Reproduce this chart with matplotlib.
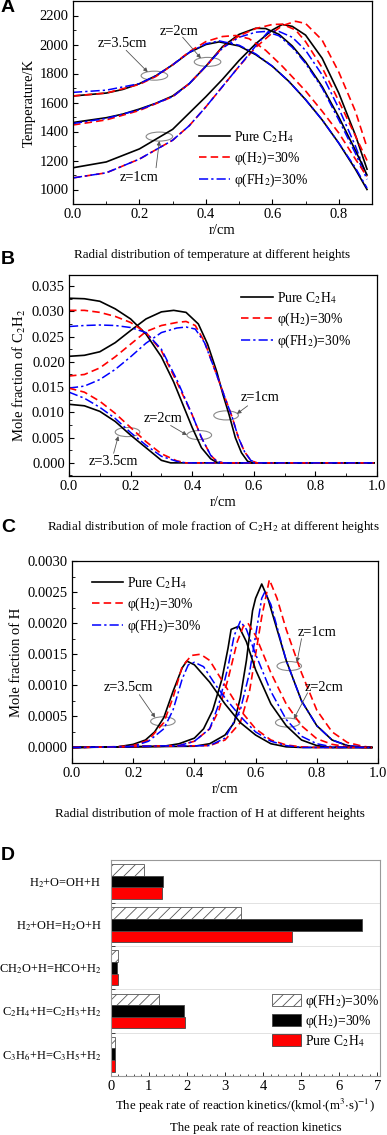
import matplotlib
matplotlib.use('Agg')
import matplotlib.pyplot as plt
from matplotlib.patches import Ellipse
from matplotlib.ticker import MultipleLocator
import numpy as np

plt.rcParams['font.family'] = ['Liberation Serif', 'DejaVu Serif']
plt.rcParams['mathtext.fontset'] = 'stix'
plt.rcParams['font.size'] = 10
plt.rcParams['hatch.linewidth'] = 0.6
plt.rcParams['hatch.color'] = '#555555'

# ---------------- data: panel A (temperature, K) ----------------
rA1_pure = [0, 0.1, 0.2, 0.3, 0.4, 0.45, 0.5, 0.55, 0.6, 0.63, 0.66, 0.7, 0.75, 0.8, 0.85, 0.885]
TA1_pure = [1150, 1190, 1280, 1415, 1640, 1760, 1890, 2005, 2100, 2138, 2125, 2065, 1905, 1665, 1375, 1140]
rA1_h2 = [0, 0.1, 0.2, 0.3, 0.35, 0.4, 0.45, 0.5, 0.55, 0.6, 0.63, 0.67, 0.7, 0.75, 0.8, 0.85, 0.885]
TA1_h2 = [1080, 1115, 1210, 1340, 1440, 1570, 1710, 1850, 1980, 2080, 2130, 2160, 2145, 2030, 1810, 1540, 1290]
rA1_fh2 = [0, 0.1, 0.2, 0.3, 0.35, 0.4, 0.45, 0.5, 0.55, 0.59, 0.62, 0.66, 0.7, 0.75, 0.8, 0.85, 0.885]
TA1_fh2 = [1080, 1115, 1210, 1340, 1440, 1570, 1710, 1850, 1990, 2095, 2090, 2050, 1960, 1790, 1560, 1300, 1090]

rA2_pure = [0, 0.1, 0.15, 0.2, 0.25, 0.3, 0.35, 0.4, 0.45, 0.5, 0.55, 0.58, 0.62, 0.66, 0.7, 0.75, 0.8, 0.85, 0.885]
TA2_pure = [1462, 1495, 1520, 1555, 1595, 1645, 1730, 1850, 1985, 2070, 2112, 2110, 2070, 1990, 1880, 1710, 1500, 1270, 1100]
rA2_h2 = [0, 0.1, 0.2, 0.3, 0.35, 0.4, 0.45, 0.5, 0.55, 0.6, 0.63, 0.67, 0.7, 0.75, 0.8, 0.85, 0.885]
TA2_h2 = [1445, 1480, 1545, 1640, 1730, 1850, 1980, 2060, 2110, 2138, 2140, 2100, 2020, 1840, 1610, 1370, 1200]
rA2_fh2 = [0, 0.1, 0.2, 0.3, 0.35, 0.4, 0.45, 0.5, 0.55, 0.58, 0.62, 0.66, 0.7, 0.75, 0.8, 0.85, 0.885]
TA2_fh2 = [1455, 1490, 1550, 1640, 1730, 1850, 1975, 2050, 2085, 2090, 2060, 1980, 1870, 1700, 1480, 1250, 1070]

rA3_pure = [0, 0.1, 0.15, 0.2, 0.25, 0.3, 0.35, 0.4, 0.44, 0.5, 0.55, 0.6, 0.65, 0.7, 0.75, 0.8, 0.85, 0.885]
TA3_pure = [1645, 1665, 1690, 1730, 1785, 1860, 1945, 2000, 2018, 1990, 1930, 1850, 1745, 1620, 1480, 1320, 1140, 1000]
rA3_h2 = [0, 0.1, 0.2, 0.25, 0.3, 0.35, 0.4, 0.45, 0.49, 0.53, 0.58, 0.63, 0.7, 0.75, 0.8, 0.85, 0.885]
TA3_h2 = [1645, 1665, 1725, 1780, 1860, 1950, 2020, 2055, 2062, 2040, 1960, 1850, 1680, 1540, 1390, 1210, 1090]
rA3_fh2 = [0, 0.1, 0.2, 0.25, 0.3, 0.35, 0.4, 0.44, 0.5, 0.55, 0.6, 0.65, 0.7, 0.75, 0.8, 0.85, 0.885]
TA3_fh2 = [1670, 1685, 1730, 1785, 1860, 1945, 2005, 2025, 1995, 1935, 1850, 1745, 1620, 1480, 1320, 1150, 1010]

# ---------------- data: panel B (mole fraction C2H2) ----------------
rB1 = [0, 0.05, 0.1, 0.15, 0.2, 0.25, 0.3, 0.34, 0.38, 0.42, 0.45, 0.48, 0.5, 0.52, 0.54, 0.56, 0.58, 0.6, 0.8, 0.99]
xB1_pure = [0.0211, 0.0213, 0.0220, 0.0238, 0.0262, 0.0285, 0.0299, 0.0302, 0.0298, 0.0275, 0.0235, 0.0180, 0.0135, 0.0095, 0.0050, 0.0020, 0.0003, 0, 0, 0]
rB1_o = [0, 0.05, 0.1, 0.15, 0.2, 0.25, 0.3, 0.35, 0.38, 0.41, 0.44, 0.47, 0.5, 0.53, 0.55, 0.57, 0.59, 0.61, 0.8, 0.99]
xB1_h2 = [0.0172, 0.0175, 0.0188, 0.0210, 0.0235, 0.0260, 0.0272, 0.0278, 0.0280, 0.0272, 0.0240, 0.0190, 0.0140, 0.0090, 0.0050, 0.0022, 0.0005, 0, 0, 0]
xB1_fh2 = [0.0148, 0.0152, 0.0165, 0.0185, 0.0210, 0.0237, 0.0258, 0.0267, 0.0269, 0.0265, 0.0238, 0.0190, 0.0140, 0.0090, 0.0050, 0.0022, 0.0005, 0, 0, 0]

rB2 = [0, 0.05, 0.1, 0.15, 0.2, 0.25, 0.3, 0.34, 0.37, 0.4, 0.43, 0.46, 0.48, 0.5, 0.8, 0.99]
xB2_pure = [0.0326, 0.0325, 0.0320, 0.0305, 0.0285, 0.0255, 0.0210, 0.0160, 0.0115, 0.0070, 0.0030, 0.0008, 0.0001, 0, 0, 0]
rB2_o = [0, 0.05, 0.1, 0.15, 0.2, 0.25, 0.3, 0.35, 0.4, 0.43, 0.46, 0.48, 0.5, 0.8, 0.99]
xB2_h2 = [0.0302, 0.0302, 0.0298, 0.0290, 0.0278, 0.0258, 0.0222, 0.0160, 0.0095, 0.0050, 0.0015, 0.0003, 0, 0, 0]
xB2_fh2 = [0.0270, 0.0272, 0.0273, 0.0272, 0.0268, 0.0258, 0.0225, 0.0165, 0.0095, 0.0050, 0.0015, 0.0003, 0, 0, 0]

rB3 = [0, 0.05, 0.1, 0.15, 0.2, 0.25, 0.28, 0.3, 0.33, 0.6, 0.99]
xB3_pure = [0.0116, 0.0113, 0.0102, 0.0082, 0.0055, 0.0030, 0.0015, 0.0005, 0, 0, 0]
rB3_o = [0, 0.05, 0.1, 0.15, 0.2, 0.25, 0.3, 0.35, 0.38, 0.6, 0.99]
xB3_h2 = [0.0148, 0.0140, 0.0122, 0.0098, 0.0070, 0.0042, 0.0018, 0.0004, 0, 0, 0]
xB3_fh2 = [0.0140, 0.0128, 0.0110, 0.0088, 0.0060, 0.0035, 0.0013, 0.0003, 0, 0, 0]

# ---------------- data: panel C (mole fraction H) ----------------
rC3_pure = [0, 0.15, 0.2, 0.24, 0.27, 0.3, 0.33, 0.36, 0.375, 0.4, 0.45, 0.5, 0.55, 0.6, 0.65, 0.7, 0.75, 0.98]
xC3_pure = [0, 0.00001, 0.00005, 0.00012, 0.00025, 0.00048, 0.0009, 0.00128, 0.00139, 0.00133, 0.00105, 0.0007, 0.0004, 0.0002, 0.00006, 0.00001, 0, 0]
rC3_h2 = [0, 0.15, 0.2, 0.25, 0.3, 0.33, 0.36, 0.39, 0.42, 0.45, 0.5, 0.55, 0.6, 0.65, 0.7, 0.75, 0.8, 0.98]
xC3_h2 = [0, 0.00001, 0.00003, 0.00012, 0.0004, 0.0008, 0.0013, 0.00148, 0.0015, 0.0014, 0.001, 0.0006, 0.0003, 0.00012, 0.00004, 0.00001, 0, 0]
rC3_fh2 = [0, 0.15, 0.2, 0.25, 0.3, 0.33, 0.36, 0.38, 0.4, 0.43, 0.47, 0.5, 0.55, 0.6, 0.65, 0.7, 0.75, 0.98]
xC3_fh2 = [0, 0.00001, 0.00002, 0.0001, 0.0003, 0.0006, 0.0011, 0.00133, 0.00137, 0.0013, 0.001, 0.0008, 0.0005, 0.00025, 0.0001, 0.00003, 0, 0]

rC2_pure = [0, 0.3, 0.35, 0.4, 0.43, 0.46, 0.49, 0.51, 0.52, 0.545, 0.57, 0.6, 0.65, 0.7, 0.75, 0.8, 0.85, 0.98]
xC2_pure = [0, 0.00002, 0.00006, 0.00015, 0.0003, 0.0006, 0.0011, 0.0016, 0.0019, 0.00195, 0.0017, 0.00125, 0.0007, 0.00035, 0.00012, 0.00003, 0, 0]
rC2_h2 = [0, 0.35, 0.4, 0.45, 0.48, 0.51, 0.54, 0.56, 0.575, 0.6, 0.65, 0.7, 0.75, 0.8, 0.85, 0.9, 0.98]
xC2_h2 = [0, 0.00003, 0.0001, 0.0003, 0.0006, 0.0011, 0.0017, 0.00195, 0.002, 0.0018, 0.0012, 0.0007, 0.00035, 0.00014, 0.00005, 0.00001, 0]
rC2_fh2 = [0, 0.35, 0.4, 0.45, 0.48, 0.51, 0.53, 0.55, 0.57, 0.6, 0.65, 0.7, 0.75, 0.8, 0.85, 0.98]
xC2_fh2 = [0, 0.00003, 0.0001, 0.0003, 0.0007, 0.0013, 0.0018, 0.00203, 0.0019, 0.0015, 0.0009, 0.00045, 0.00018, 0.00006, 0.00001, 0]

rC1_pure = [0, 0.4, 0.45, 0.5, 0.53, 0.55, 0.57, 0.59, 0.6, 0.62, 0.64, 0.67, 0.7, 0.75, 0.8, 0.85, 0.9, 0.95, 0.98]
xC1_pure = [0, 0.00002, 0.00006, 0.0002, 0.0004, 0.0008, 0.0014, 0.0022, 0.0024, 0.00263, 0.0024, 0.0019, 0.0014, 0.00075, 0.00035, 0.00012, 0.00003, 0, 0]
rC1_h2 = [0, 0.45, 0.5, 0.55, 0.58, 0.6, 0.62, 0.645, 0.67, 0.7, 0.75, 0.8, 0.85, 0.9, 0.95, 0.98]
xC1_h2 = [0, 0.00003, 0.00012, 0.0004, 0.0009, 0.0015, 0.0021, 0.0027, 0.0024, 0.0019, 0.0012, 0.0006, 0.00025, 0.00008, 0.00002, 0]
rC1_fh2 = [0, 0.45, 0.5, 0.55, 0.58, 0.6, 0.62, 0.63, 0.65, 0.7, 0.75, 0.8, 0.85, 0.9, 0.98]
xC1_fh2 = [0, 0.00003, 0.00015, 0.0006, 0.0012, 0.0018, 0.0024, 0.0025, 0.0023, 0.0014, 0.00075, 0.00035, 0.00012, 0.00003, 0]

# ---------------- data: panel D (peak reaction rates) ----------------
reactions = ['H$_2$+O=OH+H', 'H$_2$+OH=H$_2$O+H', 'CH$_2$O+H=HCO+H$_2$',
             'C$_2$H$_4$+H=C$_2$H$_3$+H$_2$', 'C$_3$H$_6$+H=C$_3$H$_5$+H$_2$']
rate_fh2 = [0.88, 3.43, 0.20, 1.28, 0.10]
rate_h2 = [1.38, 6.60, 0.17, 1.92, 0.11]
rate_pure = [1.34, 4.76, 0.20, 1.95, 0.12]

lab_pure = 'Pure C$_2$H$_4$'
lab_h2 = 'φ(H$_2$)=30%'
lab_fh2 = 'φ(FH$_2$)=30%'

W, H = 387, 1135
fig = plt.figure(figsize=(W / 100, H / 100), dpi=100)


def box(l, t, r, b):
    return [l / W, 1 - b / H, (r - l) / W, (b - t) / H]


def ftext(x, y, s, **kw):
    fig.text(x / W, 1 - y / H, s, **kw)


red_ls = (0, (4.5, 2.5))
blue_ls = (0, (6, 2, 1.5, 2))
TICK = 10.5
LAB = 10.5
LEG = 9.8
ANN = 10.3


def style(ax):
    ax.tick_params(which='both', direction='in', labelsize=TICK, pad=3)
    ax.tick_params(which='major', length=3.5, width=0.8)
    ax.tick_params(which='minor', length=2, width=0.6)
    ax.tick_params(top=False, right=False, which='both')
    for s in ax.spines.values():
        s.set_linewidth(0.9)


def trio(ax, r1, y1, r2, y2, r3, y3):
    ax.plot(r1, y1, color='black', lw=1.2)
    ax.plot(r2, y2, color='red', lw=1.2, ls=red_ls)
    ax.plot(r3, y3, color='blue', lw=1.1, ls=blue_ls)


def mark(ax, cx, cy, w, h, tx, ty, ax0, ay0):
    ax.add_patch(Ellipse((cx, cy), w, h, fill=False, ec='#8a8a8a', lw=0.8))
    ax.annotate('', xy=(cx + ax0, cy + ay0), xytext=(tx, ty),
                arrowprops=dict(arrowstyle='-|>', color='#555555', lw=0.6,
                                mutation_scale=6, shrinkA=0, shrinkB=0))


def leg(ax, x0, y0):
    ax.legend([plt.Line2D([], [], color='black', lw=1.2),
               plt.Line2D([], [], color='red', lw=1.2, ls=red_ls),
               plt.Line2D([], [], color='blue', lw=1.1, ls=blue_ls)],
              [lab_pure, lab_h2, lab_fh2], loc='upper left', bbox_to_anchor=(x0, y0),
              frameon=False, fontsize=LEG, handlelength=2.3, labelspacing=0.35,
              borderaxespad=0, borderpad=0, handletextpad=0.3)


# ---------------- panel A ----------------
ax = fig.add_axes(box(73, 1, 372, 204))
trio(ax, rA1_pure, TA1_pure, rA1_h2, TA1_h2, rA1_fh2, TA1_fh2)
trio(ax, rA2_pure, TA2_pure, rA2_h2, TA2_h2, rA2_fh2, TA2_fh2)
trio(ax, rA3_pure, TA3_pure, rA3_h2, TA3_h2, rA3_fh2, TA3_fh2)
ax.set_xlim(0, 0.9)
ax.set_ylim(900, 2300)
ax.xaxis.set_minor_locator(MultipleLocator(0.1))
ax.yaxis.set_minor_locator(MultipleLocator(100))
ax.set_xticks([0, 0.2, 0.4, 0.6, 0.8])
ax.set_yticks([1000, 1200, 1400, 1600, 1800, 2000, 2200])
style(ax)
ax.set_xlabel('r/cm', fontsize=LAB, labelpad=2)
ax.set_ylabel('Temperature/K', fontsize=LAB, labelpad=3)
mark(ax, 0.245, 1785, 0.08, 62, 0.16, 1960, -0.02, 25)
mark(ax, 0.405, 1880, 0.08, 62, 0.33, 2050, -0.02, 25)
mark(ax, 0.26, 1365, 0.08, 62, 0.25, 1150, 0.0, -30)
ax.text(0.148, 2008, 'z=3.5cm', ha='center', va='center', fontsize=ANN)
ax.text(0.32, 2092, 'z=2cm', ha='center', va='center', fontsize=ANN)
ax.text(0.2, 1085, 'z=1cm', ha='center', va='center', fontsize=ANN)
leg(ax, 0.42, 0.37)

# ---------------- panel B ----------------
ax = fig.add_axes(box(69, 275, 377, 476))
trio(ax, rB1, xB1_pure, rB1_o, xB1_h2, rB1_o, xB1_fh2)
trio(ax, rB2, xB2_pure, rB2_o, xB2_h2, rB2_o, xB2_fh2)
trio(ax, rB3, xB3_pure, rB3_o, xB3_h2, rB3_o, xB3_fh2)
ax.set_xlim(0, 0.995)
ax.set_ylim(-0.0026, 0.0372)
ax.xaxis.set_minor_locator(MultipleLocator(0.1))
ax.yaxis.set_minor_locator(MultipleLocator(0.0025))
ax.set_xticks([0, 0.2, 0.4, 0.6, 0.8, 1.0])
ax.set_yticks([0, 0.005, 0.01, 0.015, 0.02, 0.025, 0.03, 0.035])
ax.set_yticklabels(['0.000', '0.005', '0.010', '0.015', '0.020', '0.025', '0.030', '0.035'])
style(ax)
ax.set_xlabel('r/cm', fontsize=LAB, labelpad=2)
ax.set_ylabel('Mole fraction of C$_2$H$_2$', fontsize=LAB, labelpad=3)
mark(ax, 0.51, 0.0094, 0.08, 0.0018, 0.58, 0.0113, 0.035, 0.0003)
mark(ax, 0.423, 0.0055, 0.08, 0.0018, 0.33, 0.0074, -0.04, 0.0)
mark(ax, 0.19, 0.0061, 0.08, 0.0018, 0.145, 0.0019, -0.03, -0.0008)
ax.text(0.62, 0.0130, 'z=1cm', ha='center', va='center', fontsize=ANN)
ax.text(0.305, 0.0087, 'z=2cm', ha='center', va='center', fontsize=ANN)
ax.text(0.145, 0.0003, 'z=3.5cm', ha='center', va='center', fontsize=ANN)
leg(ax, 0.56, 0.925)

# ---------------- panel C ----------------
ax = fig.add_axes(box(72, 561, 378, 763))
trio(ax, rC1_pure, xC1_pure, rC1_h2, xC1_h2, rC1_fh2, xC1_fh2)
trio(ax, rC2_pure, xC2_pure, rC2_h2, xC2_h2, rC2_fh2, xC2_fh2)
trio(ax, rC3_pure, xC3_pure, rC3_h2, xC3_h2, rC3_fh2, xC3_fh2)
ax.set_xlim(0, 0.998)
ax.set_ylim(-0.00025, 0.003)
ax.xaxis.set_minor_locator(MultipleLocator(0.1))
ax.yaxis.set_minor_locator(MultipleLocator(0.00025))
ax.set_xticks([0, 0.2, 0.4, 0.6, 0.8, 1.0])
ax.set_yticks([0, 0.0005, 0.001, 0.0015, 0.002, 0.0025, 0.003])
ax.set_yticklabels(['0.0000', '0.0005', '0.0010', '0.0015', '0.0020', '0.0025', '0.0030'])
style(ax)
ax.set_xlabel('r/cm', fontsize=LAB, labelpad=2)
ax.set_ylabel('Mole fraction of H', fontsize=LAB, labelpad=3)
mark(ax, 0.71, 0.00131, 0.08, 0.000145, 0.75, 0.00175, 0.025, 0.00006)
mark(ax, 0.705, 0.0004, 0.08, 0.000145, 0.77, 0.00088, 0.02, 0.00006)
mark(ax, 0.297, 0.00042, 0.08, 0.000145, 0.22, 0.00085, -0.025, 0.00006)
ax.text(0.80, 0.00185, 'z=1cm', ha='center', va='center', fontsize=ANN)
ax.text(0.825, 0.00097, 'z=2cm', ha='center', va='center', fontsize=ANN)
ax.text(0.183, 0.00096, 'z=3.5cm', ha='center', va='center', fontsize=ANN)
leg(ax, 0.064, 0.93)

# ---------------- panel D ----------------
ax = fig.add_axes(box(110.7, 860, 380, 1075.7))
y = np.arange(len(reactions))
hb = 0.27
ax.barh(y - hb, rate_fh2, height=hb, color='white', edgecolor='#555555', hatch='///', lw=0.6, label=lab_fh2)
ax.barh(y, rate_h2, height=hb, color='black', edgecolor='#444444', lw=0.6, label=lab_h2)
ax.barh(y + hb, rate_pure, height=hb, color='red', edgecolor='#444444', lw=0.6, label=lab_pure)
ax.set_ylim(4.5, -0.5)
ax.set_xlim(0, 7.07)
ax.set_yticks(y)
ax.set_yticklabels(reactions, fontsize=8.9)
ax.set_yticks([0.5, 1.5, 2.5, 3.5], minor=True)
ax.grid(True, which='minor', axis='y', color='#dddddd', lw=0.6)
ax.set_axisbelow(True)
ax.xaxis.set_major_locator(MultipleLocator(1))
ax.xaxis.set_minor_locator(MultipleLocator(0.2))
ax.tick_params(axis='x', which='major', direction='in', length=3, width=0.6, labelsize=TICK, pad=3)
ax.tick_params(axis='x', which='minor', direction='in', length=1.5, width=0.5)
ax.tick_params(axis='y', which='major', length=0, pad=6.5)
ax.tick_params(axis='y', which='minor', direction='in', length=3, width=0.5)
for s in ax.spines.values():
    s.set_color('#999999')
    s.set_linewidth(0.8)
ax.set_xlabel('The peak rate of reaction kinetics/(kmol$\\cdot$(m$^3$$\\cdot$s)$^{-1}$)', fontsize=9.3, labelpad=3)
ax.legend(loc='upper left', bbox_to_anchor=(0.599, 0.385), frameon=False, fontsize=LEG,
          handlelength=2.1, handleheight=0.95, labelspacing=0.2, handletextpad=0.3,
          borderaxespad=0, borderpad=0)

# ---------------- captions and panel letters ----------------
ftext(212, 255, 'Radial distribution of temperature at different heights', ha='center', va='center', fontsize=9.4)
ftext(214, 527, 'Radial distribution of mole fraction of C$_2$H$_2$ at different heights', ha='center', va='center', fontsize=9.4)
ftext(210, 814, 'Radial distribution of mole fraction of H at different heights', ha='center', va='center', fontsize=9.4)
ftext(256, 1128, 'The peak rate of reaction kinetics', ha='center', va='center', fontsize=9.3)
for letter, yy in [('A', 8), ('B', 260), ('C', 528), ('D', 856)]:
    ftext(1, yy, letter, ha='left', va='center', fontsize=14, fontweight='bold', family='Liberation Sans')

fig.savefig('out.png', dpi=100)
